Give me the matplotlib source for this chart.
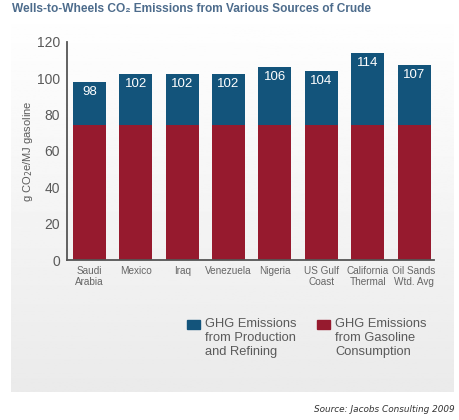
import matplotlib
matplotlib.use('Agg')
import matplotlib.pyplot as plt
import numpy as np
from matplotlib.patches import Rectangle


plt.rcParams['font.family'] = ['Liberation Sans', 'DejaVu Sans']

categories = ['Saudi\nArabia', 'Mexico', 'Iraq', 'Venezuela', 'Nigeria',
              'US Gulf\nCoast', 'California\nThermal', 'Oil Sands\nWtd. Avg']
totals = [98, 102, 102, 102, 106, 104, 114, 107]
consumption = [74, 74, 74, 74, 74, 74, 74, 74]
production = [t - c for t, c in zip(totals, consumption)]

legend_labels = ['GHG Emissions\nfrom Production\nand Refining',
                 'GHG Emissions\nfrom Gasoline\nConsumption']

BLUE = '#13547b'
RED = '#961a2e'
GREY = '#5a5a5a'
W, H = 460, 420


def main():
    fig = plt.figure(figsize=(W / 100, H / 100), dpi=100)

    # light grey gradient panel behind the chart
    bg = fig.add_axes([11 / W, 1 - 392 / H, 443 / W, 379 / H], zorder=0)
    grad = np.linspace(0.998, 0.9, 256).reshape(-1, 1) ** 0.8
    bg.imshow(grad, aspect='auto', cmap='gray', vmin=0, vmax=1,
              extent=[0, 1, 0, 1])
    bg.set_axis_off()

    ax = fig.add_axes([66.7 / W, 1 - 260 / H, (434 - 66.7) / W, (260 - 41.6) / H],
                      zorder=1)
    ax.patch.set_alpha(0)

    x = np.arange(len(categories))
    ax.bar(x, consumption, width=0.71, color=RED, zorder=2)
    ax.bar(x, production, width=0.71, bottom=consumption, color=BLUE, zorder=2)
    for xi, t in zip(x, totals):
        ax.text(xi, t - 2.2, str(t), ha='center', va='top', color='white',
                fontsize=9.5)

    ax.set_xlim(-0.49, 7.43)
    ax.set_ylim(0, 120)
    ax.set_yticks(range(0, 121, 20))
    ax.set_xticks(x)
    ax.set_xticklabels(categories, fontsize=7.2, color='#666666', linespacing=1.15)
    ax.tick_params(axis='y', length=0, pad=5, labelsize=10, labelcolor=GREY)
    ax.tick_params(axis='x', length=0, pad=4)
    for s in ['top', 'right']:
        ax.spines[s].set_visible(False)
    for s in ['left', 'bottom']:
        ax.spines[s].set_color('#555555')
        ax.spines[s].set_linewidth(1.3)
    ax.set_ylabel('g CO$_2$e/MJ gasoline', fontsize=8, color=GREY, labelpad=1)

    # legend drawn by hand so the swatch sits by the first line
    for (sx, tx), col, lab in zip([(187, 205), (317, 335)], [BLUE, RED], legend_labels):
        fig.patches.append(Rectangle((sx / W, 1 - 329 / H), 13 / W, 9 / H,
                                     transform=fig.transFigure, color=col, zorder=3))
        fig.text(tx / W, 1 - 318 / H, lab, ha='left', va='top', fontsize=9.3,
                 color=GREY, linespacing=1.2, zorder=3)

    fig.text(12 / W, 1 - 9 / H, 'Wells-to-Wheels CO₂ Emissions from Various Sources of Crude',
             ha='left', va='center', fontsize=8.6, fontweight='bold',
             color='#4d6c8c')
    fig.text(455 / W, 1 - 410 / H, 'Source: Jacobs Consulting 2009',
             ha='right', va='center', fontsize=6.4, style='italic',
             color='#333333', family=['DejaVu Sans'])

    fig.savefig('out.png', dpi=100)


if __name__ == '__main__':
    main()
